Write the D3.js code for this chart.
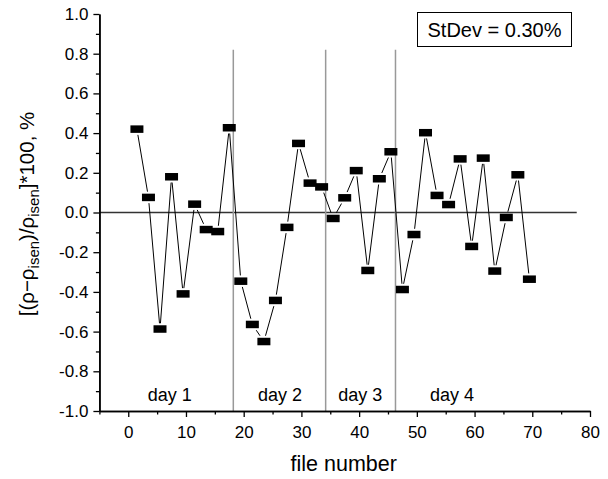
<!DOCTYPE html>
<html>
<head>
<meta charset="utf-8">
<script src="https://cdn.jsdelivr.net/npm/d3@7"></script>
<style>
body { margin: 0; background: #fff; }
text { font-family: Arial, "Liberation Sans", sans-serif; fill: #000; }
</style>
</head>
<body>
<div id="chart"></div>
<script>
// file numbers and relative density deviation, %
var fileNumbers = [1.5, 3.5, 5.5, 7.5, 9.5, 11.5, 13.5, 15.5, 17.5, 19.5, 21.5, 23.5,
	25.5, 27.5, 29.5, 31.5, 33.5, 35.5, 37.5, 39.5, 41.5, 43.5, 45.5, 47.5,
	49.5, 51.5, 53.5, 55.5, 57.5, 59.5, 61.5, 63.5, 65.5, 67.5, 69.5];
var deviations = [0.42, 0.076, -0.587, 0.18, -0.41, 0.042, -0.086, -0.096, 0.427,
	-0.346, -0.564, -0.65, -0.443, -0.075, 0.348, 0.148, 0.129,
	-0.03, 0.074, 0.211, -0.292, 0.17, 0.306,
	-0.388, -0.111, 0.402, 0.086, 0.04, 0.27, -0.171, 0.274, -0.295, -0.025, 0.19, -0.336];

var dayBreaks = [18.2, 34.2, 46.3]; // vertical separators
var dayBreakTop = 0.82;
var dayNames = ["day 1", "day 2", "day 3", "day 4"];
var dayLabelX = [7.2, 26.3, 40.2, 56.1];
var zeroLineEnd = 77.7;

var xTicks = [0, 10, 20, 30, 40, 50, 60, 70, 80];
var xMinorTicks = [-5, 5, 15, 25, 35, 45, 55, 65, 75];
var yTicks = [-1.0, -0.8, -0.6, -0.4, -0.2, 0.0, 0.2, 0.4, 0.6, 0.8, 1.0];
var yMinorTicks = [-0.9, -0.7, -0.5, -0.3, -0.1, 0.1, 0.3, 0.5, 0.7, 0.9];
var stdevText = "StDev = 0.30%";

var width = 608, height = 479;
var padLeft = 99.4, padRight = 590, padTop = 14, padBottom = 411;
var markW = 13, markH = 7.5, gap = 2;

var svg = d3.select("#chart").append("svg")
	.attr("width", width)
	.attr("height", height);

var x = d3.scaleLinear().domain([-5, 80]).range([padLeft, padRight]);
var y = d3.scaleLinear().domain([-1, 1]).range([padBottom, padTop]);

// zero line
svg.append("line")
	.attr("x1", x(-5)).attr("x2", x(zeroLineEnd))
	.attr("y1", y(0)).attr("y2", y(0))
	.style("stroke", "#333").style("stroke-width", 1.3);

// day separators
svg.append("g").selectAll("line").data(dayBreaks).enter().append("line")
	.attr("x1", function(d){ return x(d); })
	.attr("x2", function(d){ return x(d); })
	.attr("y1", y(-1)).attr("y2", y(dayBreakTop))
	.style("stroke", "#999").style("stroke-width", 1.5);

svg.append("g").selectAll("text").data(dayNames).enter().append("text")
	.attr("x", function(d, i){ return x(dayLabelX[i]); })
	.attr("y", 401)
	.attr("text-anchor", "middle")
	.style("font-size", "18px")
	.text(function(d){ return d; });

// connecting lines with a small gap at each marker
var pts = fileNumbers.map(function(f, i){ return [x(f), y(deviations[i])]; });
var segs = svg.append("g");
for (var i = 0; i < pts.length - 1; i++) {
	var p0 = pts[i], p1 = pts[i + 1];
	var dx = p1[0] - p0[0], dy = p1[1] - p0[1];
	var len = Math.sqrt(dx * dx + dy * dy);
	var ux = dx / len, uy = dy / len;
	var t = Math.min((markW / 2 + gap) / Math.abs(ux || 1e-9), (markH / 2 + gap) / Math.abs(uy || 1e-9));
	if (2 * t >= len) continue;
	segs.append("line")
		.attr("x1", p0[0] + ux * t).attr("y1", p0[1] + uy * t)
		.attr("x2", p1[0] - ux * t).attr("y2", p1[1] - uy * t)
		.style("stroke", "#000").style("stroke-width", 1);
}

svg.append("g").selectAll("rect").data(pts).enter().append("rect")
	.attr("x", function(d){ return d[0] - markW / 2; })
	.attr("y", function(d){ return d[1] - markH / 2; })
	.attr("width", markW).attr("height", markH)
	.style("fill", "#000");

// axes (plain hyphen for negatives, as in the original)
var fmtY = function(d){ return d3.format(".1f")(d).replace("\u2212", "-"); };

svg.append("g").attr("transform", "translate(0," + padBottom + ")")
	.call(d3.axisBottom(x).tickValues(xTicks).tickSize(6).tickPadding(9).tickSizeOuter(0));
svg.append("g").attr("transform", "translate(0," + padBottom + ")")
	.call(d3.axisBottom(x).tickValues(xMinorTicks).tickSize(3.5).tickFormat("").tickSizeOuter(0));
svg.append("g").attr("transform", "translate(" + padLeft + ",0)")
	.call(d3.axisLeft(y).tickValues(yTicks).tickSize(6).tickPadding(5).tickSizeOuter(0)
		.tickFormat(fmtY));
svg.append("g").attr("transform", "translate(" + padLeft + ",0)")
	.call(d3.axisLeft(y).tickValues(yMinorTicks).tickSize(3.5).tickFormat("").tickSizeOuter(0));

svg.selectAll(".domain").style("stroke", "#000").style("stroke-width", 1.5);
svg.selectAll(".tick line").style("stroke", "#000").style("stroke-width", 1.3);
svg.selectAll(".tick text").style("font-size", "17px").style("font-family", "Arial, 'Liberation Sans', sans-serif");

// axis titles
svg.append("text")
	.attr("x", (padLeft + padRight) / 2 - 1)
	.attr("y", 471)
	.attr("text-anchor", "middle")
	.style("font-size", "21.5px")
	.text("file number");

var yl = svg.append("text")
	.attr("transform", "translate(34,214) rotate(-90)")
	.attr("text-anchor", "middle")
	.style("font-size", "20.5px");
yl.append("tspan").text("[(ρ\u2212ρ");
yl.append("tspan").attr("dy", 5).style("font-size", "15px").text("isen");
yl.append("tspan").attr("dy", -5).text(")/ρ");
yl.append("tspan").attr("dy", 5).style("font-size", "15px").text("isen");
yl.append("tspan").attr("dy", -5).text("]*100, %");

// stdev box
svg.append("rect")
	.attr("x", 417.5).attr("y", 12.5).attr("width", 154).attr("height", 34)
	.style("fill", "#fff").style("stroke", "#000").style("stroke-width", 1);
svg.append("text")
	.attr("x", 494.5).attr("y", 37)
	.attr("text-anchor", "middle")
	.style("font-size", "20px")
	.text(stdevText);
</script>
</body>
</html>
